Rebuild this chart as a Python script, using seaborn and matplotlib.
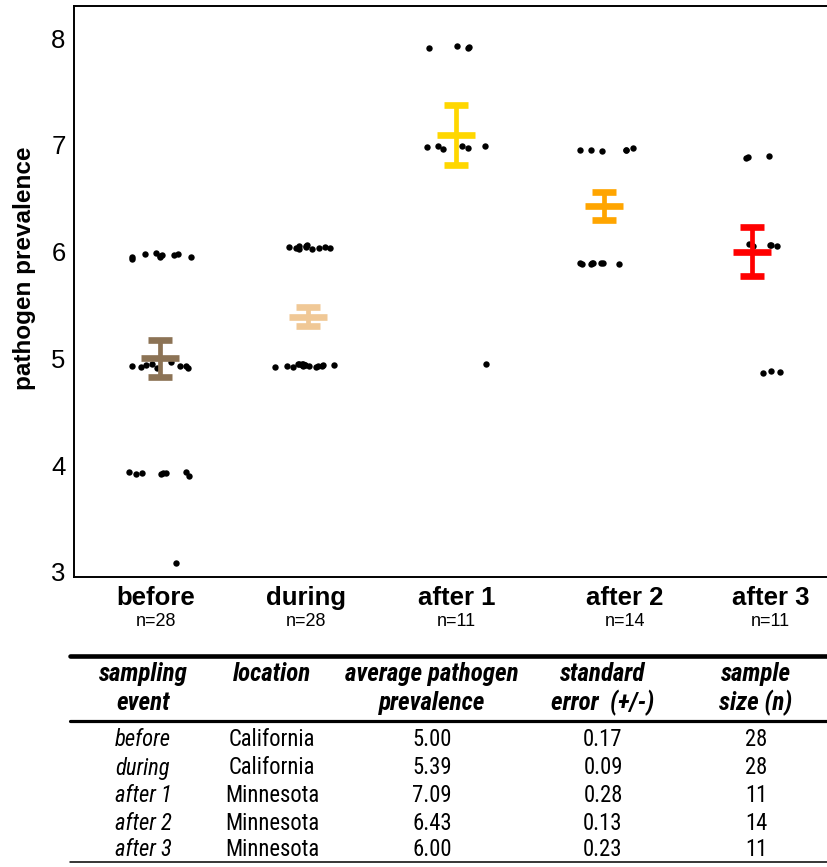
import numpy as np
import pandas as pd
import matplotlib
matplotlib.use("Agg")
import matplotlib.pyplot as plt
import matplotlib.transforms as mtransforms
from matplotlib.lines import Line2D
from matplotlib import font_manager as fm
import seaborn as sns

# ---------------- data ----------------
categories = ["before", "during", "after 1", "after 2", "after 3"]
sample_n = [28, 28, 11, 14, 11]

before_vals = [5.95, 5.98, 5.99, 5.97, 5.95, 5.97, 5.95, 5.93, 5.98, 5.96,
               4.97, 4.93, 4.95, 4.93, 4.94, 4.93, 4.92, 4.91, 4.91,
               3.94, 3.93, 3.90, 3.93, 3.93, 3.94, 3.92, 3.92,
               3.08]
during_vals = [6.03, 6.05, 6.04, 6.06, 6.02, 6.04, 6.05, 6.03, 6.04, 6.03, 6.02,
               4.92, 4.94, 4.95, 4.93, 4.95, 4.94, 4.93, 4.95, 4.94, 4.93,
               4.94, 4.93, 4.95, 4.92, 4.93, 4.94, 4.92]
after1_vals = [7.91, 7.92, 7.93, 7.91,
               6.99, 6.97, 6.98, 6.96, 6.99, 6.99,
               4.95]
after2_vals = [6.97, 6.95, 6.94, 6.95, 6.95, 6.95,
               5.89, 5.88, 5.89, 5.89, 5.89, 5.89, 5.88, 5.88]
after3_vals = [6.88, 6.89, 6.90,
               6.06, 6.05, 6.07, 6.06, 6.05,
               4.86, 4.88, 4.87]

locations = ["California", "California", "Minnesota", "Minnesota", "Minnesota"]
mean_prev = [5.00, 5.39, 7.09, 6.43, 6.00]
std_err = [0.17, 0.09, 0.28, 0.13, 0.23]
bar_colors = ["#8c7355", "#f0c896", "#ffd700", "#ffa500", "#ff0000"]

header_line1 = ["sampling", "location", "average pathogen", "standard", "sample"]
header_line2 = ["event", "", "prevalence", "error  (+/-)", "size (n)"]

# ---------------- setup ----------------
sns.set_theme(style="white")
plt.rcParams["font.family"] = ["Liberation Sans", "DejaVu Sans"]
for k in ["text.color", "axes.labelcolor", "xtick.color", "ytick.color"]:
    plt.rcParams[k] = "black"

REG = ["Liberation Sans", "DejaVu Sans"]
installed = {f.name for f in fm.fontManager.ttflist}
narrow_name = next((n for n in ["Liberation Sans Narrow", "Arial Narrow",
                                "Roboto Condensed", "Open Sans Condensed"]
                    if n in installed), None)
if narrow_name:
    NARROW = [narrow_name, "Liberation Sans", "DejaVu Sans"]
    nscale = 1.0
else:
    NARROW = REG
    nscale = 0.85

W, H = 827, 867
fig = plt.figure(figsize=(W / 100, H / 100), dpi=100)
fig.patch.set_facecolor("white")

ax_l, ax_t, ax_b = 74, 6, 577
ax = fig.add_axes([ax_l / W, 1 - ax_b / H, (W - ax_l) / W, (ax_b - ax_t) / H])
ax.set_facecolor("white")

groups = [before_vals, during_vals, after1_vals, after2_vals, after3_vals]
df = pd.DataFrame({
    "event": np.concatenate([[c] * len(g) for c, g in zip(categories, groups)]),
    "prevalence": np.concatenate(groups),
})

np.random.seed(7)
sns.stripplot(data=df, x="event", y="prevalence", order=categories,
              color="black", size=4.6, jitter=0.22, linewidth=0, ax=ax, zorder=2)

for i, (m, se, c) in enumerate(zip(mean_prev, std_err, bar_colors)):
    ax.errorbar([categories[i]], [m], yerr=[se], fmt="_", color=c,
                markersize=27, markeredgewidth=4.8, elinewidth=3.4,
                capsize=8.7, capthick=3.2, zorder=3)

ax.set_xlim(-0.58, 4.51)
ax.set_ylim(2.953, 8.30)
ax.set_yticks([3, 4, 5, 6, 7, 8])
ax.set_yticklabels(["3", "4", "5", "6", "7", "8"], fontsize=18.5, family=REG)
ax.tick_params(axis="y", length=0, pad=6)
ax.set_xticks(range(len(categories)))
ax.set_xticklabels([""] * len(categories))
ax.tick_params(axis="x", length=0)
ax.set_xlabel("")
ax.set_ylabel("pathogen prevalence", fontsize=17.5, fontweight="bold", family=REG)
ax.yaxis.set_label_coords(-0.05, 0.54)
for side in ["left", "bottom", "top"]:
    ax.spines[side].set_visible(True)
    ax.spines[side].set_color("black")
    ax.spines[side].set_linewidth(1.4)
ax.spines["right"].set_visible(False)

# category labels with n (offsets in pixels)
label_dx = [-4, -2, 1, 21, 19]
tr = mtransforms.blended_transform_factory(ax.transData, fig.transFigure)
for i, (c, n) in enumerate(zip(categories, sample_n)):
    off = mtransforms.offset_copy(tr, fig=fig, x=label_dx[i], y=0, units="dots")
    ax.text(i, 1 - 598 / H, c, transform=off, ha="center", va="center",
            fontsize=18.5, fontweight="bold", family=REG, clip_on=False)
    ax.text(i, 1 - 622 / H, f"n={n}", transform=off, ha="center", va="center",
            fontsize=13, family=REG, clip_on=False)

# ---------------- table ----------------
def fx(x):
    return x / W

def fy(y):
    return 1 - y / H

fig.add_artist(Line2D([fx(70), fx(827)], [fy(656), fy(656)], color="black", lw=3.3))
fig.add_artist(Line2D([fx(70), fx(827)], [fy(721), fy(721)], color="black", lw=2.3))
fig.add_artist(Line2D([fx(70), fx(827)], [fy(862), fy(862)], color="black", lw=1.1))

col_x = [143, 272, 432, 603, 756]
for x, h1, h2 in zip(col_x, header_line1, header_line2):
    fig.text(fx(x), fy(681), h1, ha="center", va="baseline",
             fontsize=18 * nscale, fontweight="bold", fontstyle="italic", family=NARROW)
    if h2:
        fig.text(fx(x), fy(710), h2, ha="center", va="baseline",
                 fontsize=18 * nscale, fontweight="bold", fontstyle="italic", family=NARROW)

row_y = [739, 768, 795, 823, 850]
for r, y in enumerate(row_y):
    cells = [categories[r], locations[r], f"{mean_prev[r]:.2f}",
             f"{std_err[r]:.2f}", f"{sample_n[r]}"]
    for j, (x, t) in enumerate(zip(col_x, cells)):
        fig.text(fx(x), fy(y), t, ha="center", va="center", fontsize=16.3 * nscale,
                 fontstyle="italic" if j == 0 else "normal", family=NARROW)

fig.savefig("out.png", dpi=100, facecolor="white")
